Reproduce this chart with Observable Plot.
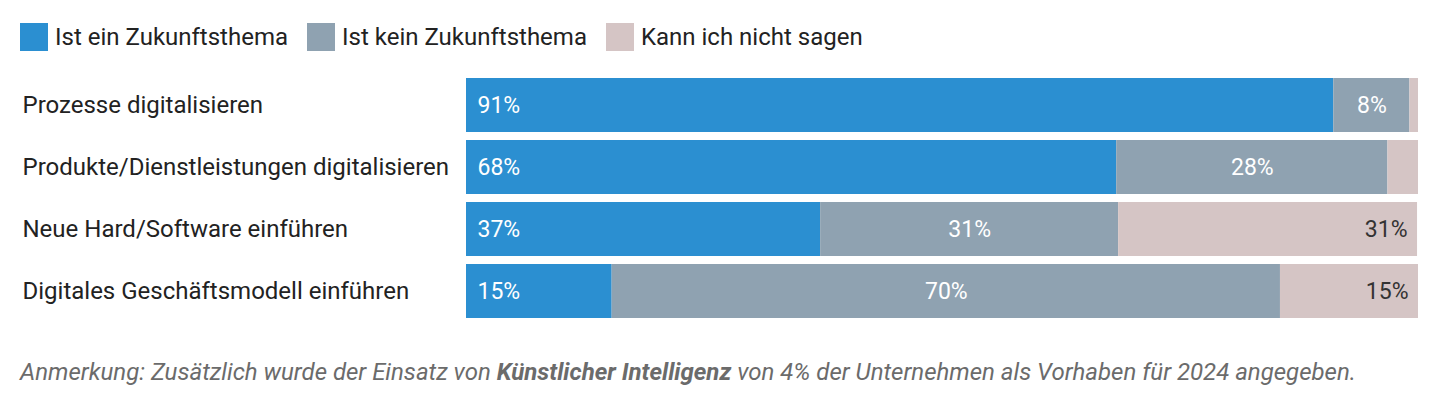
<!DOCTYPE html>
<html>
<head>
<meta charset="utf-8">
<script src="https://cdn.jsdelivr.net/npm/d3@7"></script>
<script src="https://cdn.jsdelivr.net/npm/@observablehq/plot@0.6"></script>
<style>
  html, body { margin: 0; padding: 0; background: #fff; }
  body { width: 1440px; height: 397px; overflow: hidden; font-family: Roboto, "Noto Sans", sans-serif; }
  .legend { height: 62px; box-sizing: border-box; padding-top: 11px; padding-left: 20px; display: flex; align-items: center; }
  .legend .item { display: flex; align-items: center; margin-right: 19px; font-size: 24px; color: #222; line-height: 28px; }
  .legend .sw { width: 28px; height: 28px; margin-right: 7px; }
  .note { margin-top: 32px; padding-left: 20px; font-size: 24px; font-style: italic; color: #6b6b6b; line-height: 28px; }
  svg { display: block; }
</style>
</head>
<body>
<div class="legend" id="legend"></div>
<div id="chart"></div>
<div class="note">Anmerkung: Zusätzlich wurde der Einsatz von <b>Künstlicher Intelligenz</b> von 4% der Unternehmen als Vorhaben für 2024 angegeben.</div>
<script>
const categories = [
  "Prozesse digitalisieren",
  "Produkte/Dienstleistungen digitalisieren",
  "Neue Hard/Software einführen",
  "Digitales Geschäftsmodell einführen"
];
const seriesNames = ["Ist ein Zukunftsthema", "Ist kein Zukunftsthema", "Kann ich nicht sagen"];
const seriesColors = ["#2b8fd1", "#8fa2b1", "#d5c5c5"];
const zukunft = [91.1, 68.3, 37.2, 15.3];
const keinZukunft = [8.0, 28.49, 31.3, 70.2];
const nichtSagen = [0.9, 3.21, 31.4, 14.5];

const seriesValues = [zukunft, keinZukunft, nichtSagen];
const data = [];
categories.forEach((c, i) => {
  seriesNames.forEach((s, j) => {
    data.push({cat: c, series: s, value: seriesValues[j][i]});
  });
});

// legend
const legend = document.getElementById("legend");
seriesNames.forEach((s, j) => {
  const it = document.createElement("div");
  it.className = "item";
  it.innerHTML = `<div class="sw" style="background:${seriesColors[j]}"></div><span>${s}</span>`;
  legend.appendChild(it);
});

const lbl = (name) => d => (d.series === name && d.value >= 5) ? Math.round(d.value) + "%" : "";

const chart = Plot.plot({
  width: 1440,
  height: 264,
  marginTop: 16,
  marginBottom: 8,
  marginLeft: 466,
  marginRight: 22,
  style: {fontFamily: "Roboto, 'Noto Sans', sans-serif", fontSize: "24px", color: "#222", background: "#fff"},
  x: {domain: [0, 100], axis: null},
  y: {domain: categories, paddingInner: 0.137, paddingOuter: 0, label: null},
  color: {domain: seriesNames, range: seriesColors},
  marks: [
    Plot.barX(data, Plot.stackX({x: "value", y: "cat", z: "series", fill: "series"})),
    Plot.axisY({tickSize: 0, tickPadding: 444, textAnchor: "start", fontSize: 24, fill: "#222", label: null}),
    Plot.text(data, Plot.stackX1({x: "value", y: "cat", z: "series", text: lbl(seriesNames[0]), textAnchor: "start", dx: 11, fill: "white", fontSize: 23})),
    Plot.text(data, Plot.stackX({x: "value", y: "cat", z: "series", text: lbl(seriesNames[1]), fill: "white", fontSize: 23})),
    Plot.text(data, Plot.stackX2({x: "value", y: "cat", z: "series", text: lbl(seriesNames[2]), textAnchor: "end", dx: -10, fill: "#333", fontSize: 23}))
  ]
});
document.getElementById("chart").appendChild(chart);
</script>
</body>
</html>
